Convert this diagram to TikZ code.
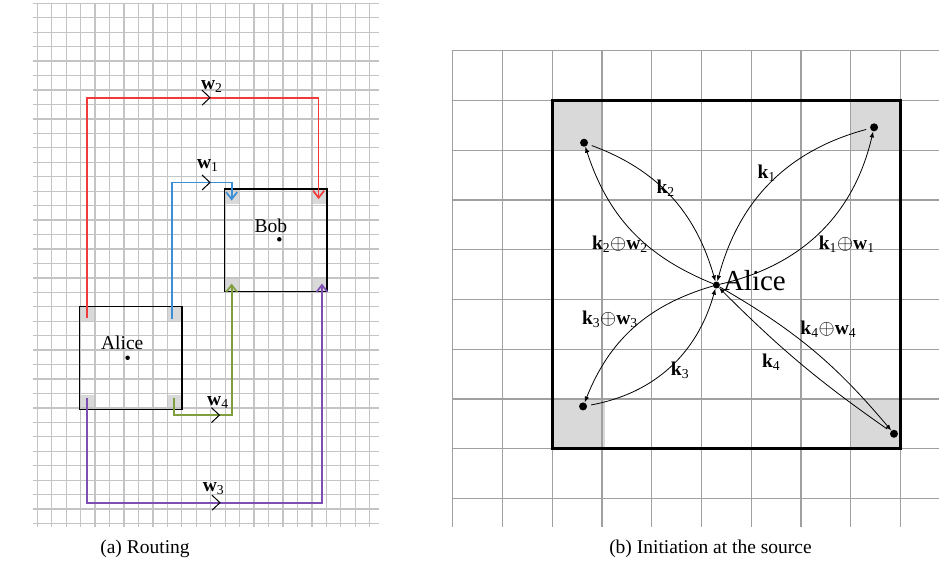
\documentclass[tikz,border=0pt]{standalone}
\usepackage{fontspec}
\setmainfont{Liberation Serif}
\usetikzlibrary{arrows.meta}
\definecolor{wred}{HTML}{F23A3A}
\definecolor{wblue}{HTML}{3A8FD6}
\definecolor{wgreen}{HTML}{7F9F3F}
\definecolor{wpurple}{HTML}{7E4FB3}
\definecolor{cellgray}{HTML}{D9D9D9}
\definecolor{finegrid}{HTML}{C4C4C4}
\definecolor{coarsegrid}{HTML}{A0A0A0}

\newcommand{\kv}[1]{\textbf{k}\textsubscript{#1}}
\newcommand{\wv}[1]{\textbf{w}\textsubscript{#1}}
\newcommand{\kw}[1]{\kv{#1}$\oplus$\wv{#1}}

\begin{document}
\begin{tikzpicture}[
    x=1pt, y=-1pt,
    fine/.style={draw=finegrid, line width=1.3pt},
    coarse/.style={draw=coarsegrid, line width=1.1pt},
    cell/.style={fill=cellgray},
    route/.style={line width=1.7pt, -{Straight Barb[length=7pt,width=11pt]}},
    chev/.pic={\draw[black, line width=1pt] (-0.55,-0.52) -- (0,0) -- (-0.55,0.52);},
    lbl/.style={font=\fontsize{19.5}{22}\selectfont, inner sep=0pt},
    sdot/.style={circle, fill=black, inner sep=0pt, minimum size=4.5pt},
    bdot/.style={circle, fill=black, inner sep=0pt, minimum size=8pt},
    msg/.style={line width=0.8pt, -{Latex[length=6pt,width=4.5pt]}},
  ]
  \useasboundingbox (0,0) rectangle (939,565);

  % (a) routing
  \begin{scope}[shift={(37.3pt,-3.3pt)}, x=14.45pt, y=-14.45pt]
    \foreach \c in {(2.9,21),(8.95,21),(2.9,27.1),(8.95,27.1),(12.95,12.85),(18.95,12.85),(12.95,18.95),(18.95,18.95)}
      \fill[cell] \c rectangle ++(1.08,1.05);
    \foreach \i in {0,...,23}
      \draw[fine] (\i,-0.05) -- (\i,36.25);
    \foreach \j in {0,...,36}
      \draw[fine] (-0.3,\j) -- (23.65,\j);
    \draw[line width=1.4pt] (2.9,21) rectangle (10,28.1);
    \draw[line width=1.4pt] (12.95,12.85) rectangle (20.05,19.95);

    \node[sdot] (alice) at (6.25,24.53) {};
    \node[lbl] (alicename) at (5.88,23.53) {Alice};
    \node[sdot] (bob) at (16.75,16.33) {};
    \node[lbl] (bobname) at (16.17,15.41) {Bob};

    \coordinate (s2) at (3.46,21.8);  \coordinate (m2) at (11.95,6.53);  \coordinate (e2) at (19.47,13.55);
    \coordinate (s1) at (9.32,21.87); \coordinate (m1) at (11.95,12.4);  \coordinate (e1) at (13.45,13.65);
    \coordinate (s4) at (9.47,27.3);  \coordinate (m4) at (12.6,28.5);   \coordinate (e4) at (13.45,19.4);
    \coordinate (s3) at (3.46,27.3);  \coordinate (m3) at (12.64,34.56); \coordinate (e3) at (19.7,19.4);
    \draw[route, wred] (s2) |- (m2) -| (e2);
    \draw[route, wblue] (s1) |- (m1) -| (e1);
    \draw[route, wgreen] (s4) |- (m4) -| (e4);
    \draw[route, wpurple] (s3) |- (m3) -| (e3);
    \foreach \m in {m1,m2,m3,m4}
      \pic at (\m) {chev};

    \node[lbl] (w2) at (12.07,5.73) {\wv{2}};
    \node[lbl] (w1) at (11.8,11.2) {\wv{1}};
    \node[lbl] (w4) at (12.5,27.6) {\wv{4}};
    \node[lbl] (w3) at (12.2,33.6) {\wv{3}};
  \end{scope}

  % (b) initiation at the source
  \begin{scope}[shift={(452.7pt,-50.7pt)}, x=49.75pt, y=-49.75pt]
    \fill[cell] (2,1) rectangle (3,2);
    \fill[cell] (8,1) rectangle (9,2);
    \fill[cell] (2,7) rectangle (3.06,8);
    \fill[cell] (8,7) rectangle (9,8);
    \foreach \i in {0,...,9}
      \draw[coarse] (\i,0) -- (\i,9.57);
    \foreach \j in {0,...,9}
      \draw[coarse] (-0.02,\j) -- (9.8,\j);
    \draw[line width=2.6pt] (2,1) rectangle (9,8);

    \node[bdot, minimum size=7pt] (src) at (5.30,4.71) {};
    \node[font=\fontsize{29}{32}\selectfont, inner sep=1pt, anchor=west] (srcname) at (5.41,4.62) {Alice};
    \node[bdot] (c1) at (8.47,1.54) {};
    \node[bdot] (c2) at (2.64,1.85) {};
    \node[bdot] (c3) at (2.62,7.15) {};
    \node[bdot] (c4) at (8.87,7.70) {};

    \draw[msg, shorten <=4pt] (c1) to[bend right=30] (src);
    \draw[msg] (src) to[bend right=32] (c1);
    \draw[msg, shorten <=4pt] (c2) to[bend left=27] (src);
    \draw[msg] (src) to[bend left=25] (c2);
    \draw[msg, shorten <=4pt] (c3) to[bend right=32] (src);
    \draw[msg] (src) to[bend right=26] (c3);
    \draw[msg, shorten <=4pt] (c4) to[bend left=5] (src);
    \draw[msg] (src) to[bend left=10] (c4);

    \node[lbl] (k1) at (6.31,2.47) {\kv{1}};
    \node[lbl] (k2) at (4.28,2.77) {\kv{2}};
    \node[lbl] (k3) at (4.57,6.42) {\kv{3}};
    \node[lbl] (k4) at (6.40,6.27) {\kv{4}};
    \node[lbl] (kw1) at (7.92,3.89) {\kw{1}};
    \node[lbl] (kw2) at (3.36,3.89) {\kw{2}};
    \node[lbl] (kw3) at (3.16,5.40) {\kw{3}};
    \node[lbl] (kw4) at (7.55,5.60) {\kw{4}};
  \end{scope}

  \node[lbl] (capa) at (145,549) {(a) Routing};
  \node[lbl] (capb) at (710.5,549) {(b) Initiation at the source};
\end{tikzpicture}
\end{document}
